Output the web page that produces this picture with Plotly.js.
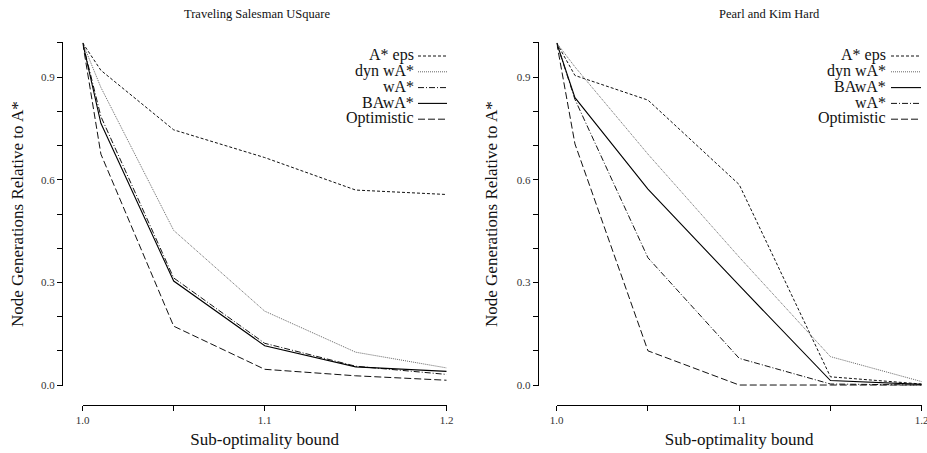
<!DOCTYPE html>
<html>
<head>
<meta charset="utf-8">
<script src="https://cdn.plot.ly/plotly-3.0.1.min.js"></script>
<style>html,body{margin:0;padding:0;background:#fff;}#chart{width:927px;height:453px;}</style>
</head>
<body>
<div id="chart"></div>
<script>
// ---- data ----
const bounds = [1.0, 1.01, 1.05, 1.1, 1.15, 1.2];

const tspAstarEps   = [1.0, 0.920, 0.746, 0.665, 0.570, 0.557];
const tspDynWA      = [1.0, 0.870, 0.452, 0.216, 0.096, 0.050];
const tspWA         = [1.0, 0.785, 0.313, 0.122, 0.055, 0.031];
const tspBAwA       = [1.0, 0.765, 0.304, 0.115, 0.053, 0.040];
const tspOptimistic = [1.0, 0.675, 0.172, 0.046, 0.027, 0.014];

const pkAstarEps    = [1.0, 0.905, 0.833, 0.586, 0.024, 0.003];
const pkDynWA       = [1.0, 0.930, 0.675, 0.374, 0.083, 0.010];
const pkBAwA        = [1.0, 0.840, 0.573, 0.291, 0.013, 0.002];
const pkWA          = [1.0, 0.835, 0.372, 0.078, 0.003, 0.000];
const pkOptimistic  = [1.0, 0.705, 0.100, 0.000, 0.000, 0.000];

const panelTitles = ["Traveling Salesman USquare", "Pearl and Kim Hard"];
const xTitle = "Sub-optimality bound";
const yTitle = "Node Generations Relative to A*";
const leftLegendOrder  = ["A* eps", "dyn wA*", "wA*", "BAwA*", "Optimistic"];
const rightLegendOrder = ["A* eps", "dyn wA*", "BAwA*", "wA*", "Optimistic"];

const yTickVals = [0, 0.1, 0.2, 0.3, 0.4, 0.5, 0.6, 0.7, 0.8, 0.9, 1.0];
const yTickText = ["0.0", "", "", "0.3", "", "", "0.6", "", "", "0.9", ""];
const xTickVals = [1.0, 1.05, 1.1, 1.15, 1.2];
const xTickText = ["1.0", "", "1.1", "", "1.2"];

// ---- styles ----
const FONT = "Liberation Serif, Times New Roman, serif";
const styles = {
  "A* eps":     {color: "#111", width: 1, dash: "3px,2px"},
  "dyn wA*":    {color: "#666", width: 1, dash: "1px,1px"},
  "wA*":        {color: "#111", width: 1, dash: "6px,2px,1px,2px"},
  "BAwA*":      {color: "#000", width: 1.1, dash: "solid"},
  "Optimistic": {color: "#111", width: 1, dash: "7px,3px"}
};

// ---- geometry helpers (layout only) ----
const W = 927, H = 453;
const M = {l: 40, r: 5, t: 41, b: 48};
const PW = W - M.l - M.r, PH = H - M.t - M.b;
const px = v => (v - M.l) / PW;
const py = v => (H - M.b - v) / PH;

const leftSeries = {
  "A* eps": tspAstarEps, "dyn wA*": tspDynWA, "wA*": tspWA,
  "BAwA*": tspBAwA, "Optimistic": tspOptimistic
};
const rightSeries = {
  "A* eps": pkAstarEps, "dyn wA*": pkDynWA, "BAwA*": pkBAwA,
  "wA*": pkWA, "Optimistic": pkOptimistic
};

const traces = [];
leftLegendOrder.forEach(name => traces.push({
  x: bounds, y: leftSeries[name], name: name, type: "scatter", mode: "lines",
  line: styles[name], xaxis: "x", yaxis: "y", showlegend: false, hoverinfo: "skip"
}));
rightLegendOrder.forEach(name => traces.push({
  x: bounds, y: rightSeries[name], name: name, type: "scatter", mode: "lines",
  line: styles[name], xaxis: "x2", yaxis: "y2", showlegend: false, hoverinfo: "skip"
}));

const yDomain = [py(386.4), py(41.6)];
function xAxis(domain) {
  return {
    domain: domain, range: [1.0, 1.2], anchor: "free", position: 0,
    showline: true, linecolor: "#000", linewidth: 1,
    ticks: "outside", ticklen: 5, tickcolor: "#000", tickwidth: 1,
    tickvals: xTickVals, ticktext: xTickText, ticklabeloverflow: "allow",
    showgrid: false, zeroline: false,
    tickfont: {family: FONT, size: 11, color: "#333"},
    title: {text: xTitle, font: {family: FONT, size: 17, color: "#111"}, standoff: 7}
  };
}
function yAxis(posPx) {
  return {
    domain: yDomain, range: [-0.004, 1.004], anchor: "free", position: px(posPx),
    showline: true, linecolor: "#000", linewidth: 1,
    ticks: "outside", ticklen: 5, tickcolor: "#000", tickwidth: 1,
    tickvals: yTickVals, ticktext: yTickText,
    showgrid: false, zeroline: false,
    tickfont: {family: FONT, size: 11, color: "#333"}
  };
}

const annotations = [];
const shapes = [];
[[panelTitles[0], 257], [panelTitles[1], 769]].forEach(([t, cx]) => annotations.push({
  text: t, x: px(cx), y: py(14), xref: "paper", yref: "paper",
  showarrow: false, xanchor: "center", yanchor: "middle",
  font: {family: FONT, size: 12.5, color: "#111"}}));
[17, 491].forEach(cx => annotations.push({
  text: yTitle, x: px(cx), y: py(214), xref: "paper", yref: "paper", textangle: -90,
  showarrow: false, xanchor: "center", yanchor: "middle",
  font: {family: FONT, size: 17, color: "#111"}}));

function addLegend(order, textRight, lineX0, lineX1) {
  order.forEach((name, i) => {
    const yc = 55 + i * 15.8;
    annotations.push({text: name, x: px(textRight), y: py(yc), xref: "paper", yref: "paper",
      showarrow: false, xanchor: "right", yanchor: "middle", borderpad: 0,
      font: {family: FONT, size: 16, color: "#111"}});
    const s = styles[name];
    shapes.push({type: "line", xref: "paper", yref: "paper",
      x0: px(lineX0), x1: px(lineX1), y0: py(yc + 1), y1: py(yc + 1),
      line: {color: s.color, width: s.width, dash: s.dash}});
  });
}
addLegend(leftLegendOrder, 415, 418, 447);
addLegend(rightLegendOrder, 887, 891, 921);

const layout = {
  width: W, height: H, margin: M,
  paper_bgcolor: "#fff", plot_bgcolor: "#fff",
  showlegend: false,
  font: {family: FONT, color: "#111"},
  xaxis: xAxis([px(82.7), px(446.7)]),
  yaxis: yAxis(62),
  xaxis2: xAxis([px(556.7), px(921.7)]),
  yaxis2: yAxis(537.7),
  annotations: annotations,
  shapes: shapes
};

Plotly.newPlot("chart", traces, layout, {staticPlot: true, displayModeBar: false});
</script>
</body>
</html>
